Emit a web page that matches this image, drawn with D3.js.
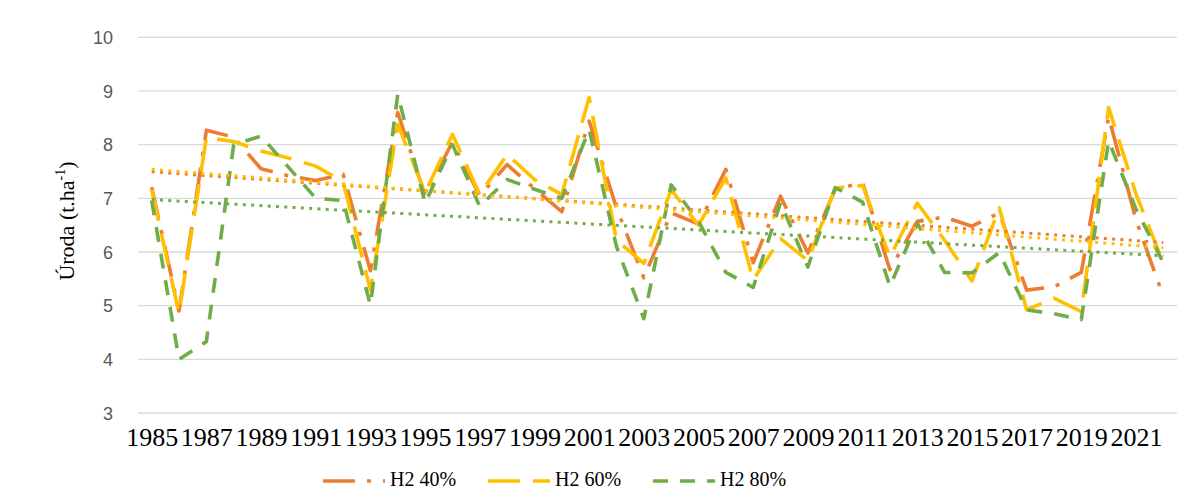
<!DOCTYPE html>
<html>
<head>
<meta charset="utf-8">
<script src="https://cdn.jsdelivr.net/npm/d3@7"></script>
<style>
  html, body { margin: 0; padding: 0; background: #fff; }
  svg { display: block; }
</style>
</head>
<body>
<svg id="chart" width="1202" height="491"></svg>
<script>
// Years on the category axis
const years = [1985, 1986, 1987, 1988, 1989, 1990, 1991, 1992, 1993, 1994,
               1995, 1996, 1997, 1998, 1999, 2000, 2001, 2002, 2003, 2004,
               2005, 2006, 2007, 2008, 2009, 2010, 2011, 2012, 2013, 2014,
               2015, 2016, 2017, 2018, 2019, 2020, 2021, 2022];

// Yield (t.ha-1) for each variant
const h2_40 = [7.21, 4.90, 8.27, 8.14, 7.55, 7.42, 7.33, 7.45, 5.65, 8.60,
               7.05, 8.05, 7.05, 7.63, 7.18, 6.75, 8.44, 6.82, 5.52, 6.73,
               6.52, 7.54, 5.80, 7.04, 5.98, 7.17, 7.29, 5.67, 6.57, 6.65,
               6.48, 6.73, 5.29, 5.35, 5.62, 8.52, 6.60, 5.17];
const h2_60 = [7.16, 4.86, 8.13, 8.06, 7.88, 7.75, 7.60, 7.31, 5.29, 8.38,
               7.10, 8.19, 7.07, 7.82, 7.35, 7.07, 8.88, 6.22, 5.79, 7.16,
               6.50, 7.38, 5.48, 6.25, 5.84, 7.19, 7.24, 5.91, 6.91, 6.22,
               5.46, 6.82, 4.92, 5.14, 4.89, 8.69, 7.08, 5.79];
const h2_80 = [6.96, 4.00, 4.33, 8.00, 8.16, 7.58, 7.00, 6.96, 5.01, 8.94,
               6.91, 8.00, 6.85, 7.35, 7.17, 7.00, 8.28, 6.10, 4.76, 7.25,
               6.57, 5.62, 5.34, 6.92, 5.72, 7.20, 6.93, 5.36, 6.54, 5.62,
               5.61, 5.99, 4.92, 4.85, 4.74, 8.07, 6.80, 5.80];

const seriesNames = ["H2 40%", "H2 60%", "H2 80%"];
const yTicks = [3, 4, 5, 6, 7, 8, 9, 10];
const xTickLabels = [1985, 1987, 1989, 1991, 1993, 1995, 1997, 1999, 2001, 2003,
                     2005, 2007, 2009, 2011, 2013, 2015, 2017, 2019, 2021];

const svg = d3.select("#chart");
const plot = { left: 138, right: 1177, top: 37.3, bottom: 413 };

const x = d3.scalePoint().domain(years).range([plot.left, plot.right]).padding(0.5);
const y = d3.scaleLinear().domain([3, 10]).range([plot.bottom, plot.top]);

// Horizontal gridlines
svg.append("g")
  .selectAll("line")
  .data(yTicks)
  .join("line")
  .attr("x1", plot.left).attr("x2", plot.right)
  .attr("y1", d => y(d)).attr("y2", d => y(d))
  .attr("stroke", "#d9d9d9").attr("stroke-width", 1.3);

// Value axis labels
const yAxis = d3.axisLeft(y).tickValues(yTicks).tickFormat(d3.format("d"))
  .tickSize(0).tickPadding(0);
svg.append("g")
  .attr("transform", "translate(113,0)")
  .call(yAxis)
  .call(g => g.select(".domain").remove())
  .call(g => g.selectAll("text")
    .attr("fill", "#595959")
    .attr("font-family", "'Liberation Sans', Arial, sans-serif")
    .attr("font-size", 18)
    .attr("dy", "0.35em"));

// Category axis labels (every second year)
const xAxis = d3.axisBottom(x).tickValues(xTickLabels).tickSize(0).tickPadding(0);
svg.append("g")
  .attr("transform", `translate(0,${plot.bottom})`)
  .call(xAxis)
  .call(g => g.select(".domain").remove())
  .call(g => g.selectAll("text")
    .attr("fill", "#000")
    .attr("font-family", "'Liberation Serif', 'Times New Roman', serif")
    .attr("font-size", 26)
    .attr("y", 33)
    .attr("dy", 0));

// Axis title
const title = svg.append("text")
  .attr("transform", "translate(74,221) rotate(-90)")
  .attr("text-anchor", "middle")
  .attr("font-family", "'Liberation Serif', 'Times New Roman', serif")
  .attr("font-size", 22)
  .attr("fill", "#000");
title.append("tspan").text("Úroda (t.ha");
title.append("tspan").attr("font-size", 14).attr("dy", -9).text("-1");
title.append("tspan").attr("dy", 9).text(")");

const styles = [
  { color: "#ED7D31", dash: "32,12,4,12" },
  { color: "#FFC000", dash: "32,13" },
  { color: "#70AD47", dash: "15,12" }
];
const allSeries = [h2_40, h2_60, h2_80];

const line = d3.line()
  .x((d, i) => x(years[i]))
  .y(d => y(d));

// Series lines
allSeries.forEach((vals, k) => {
  svg.append("path")
    .datum(vals)
    .attr("d", line)
    .attr("fill", "none")
    .attr("stroke", styles[k].color)
    .attr("stroke-width", 3.6)
    .attr("stroke-dasharray", styles[k].dash)
    .attr("stroke-linejoin", "round");
});

// Linear trend lines (least squares over the year index)
function linearFit(vals) {
  const n = vals.length;
  const idx = d3.range(n);
  const mx = d3.mean(idx), my = d3.mean(vals);
  let sxy = 0, sxx = 0;
  idx.forEach(i => { sxy += (i - mx) * (vals[i] - my); sxx += (i - mx) * (i - mx); });
  const b = sxy / sxx;
  return i => my + b * (i - mx);
}
allSeries.forEach((vals, k) => {
  const f = linearFit(vals);
  const ends = [0, vals.length - 1];
  svg.append("line")
    .attr("x1", x(years[ends[0]])).attr("y1", y(f(ends[0])))
    .attr("x2", x(years[ends[1]])).attr("y2", y(f(ends[1])))
    .attr("stroke", styles[k].color)
    .attr("stroke-width", 3)
    .attr("stroke-dasharray", "3,5.3");
});

// Legend
const legendX = [323, 488, 653];
const legend = svg.append("g");
seriesNames.forEach((name, k) => {
  const g = legend.append("g").attr("transform", `translate(${legendX[k]},481)`);
  g.append("line")
    .attr("x1", 0).attr("x2", 62).attr("y1", 0).attr("y2", 0)
    .attr("stroke", styles[k].color)
    .attr("stroke-width", 3.6)
    .attr("stroke-dasharray", styles[k].dash);
  g.append("text")
    .attr("x", k === 0 ? 67 : 67)
    .attr("y", 5)
    .attr("font-family", "'Liberation Serif', 'Times New Roman', serif")
    .attr("font-size", 20)
    .attr("fill", "#000")
    .text(name);
});
</script>
</body>
</html>
